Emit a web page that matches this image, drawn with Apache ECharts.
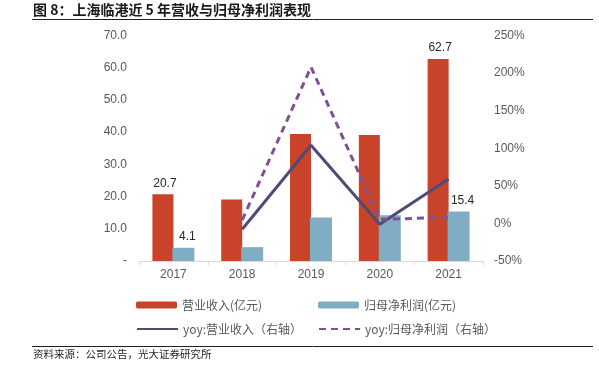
<!DOCTYPE html>
<html><head><meta charset="utf-8">
<script src="https://cdn.jsdelivr.net/npm/echarts@6/dist/echarts.min.js"></script>
<style>html,body{margin:0;padding:0;background:#fff}#c{width:599px;height:376px}</style>
</head><body><div id="c"></div>
<script>
const categories = ['2017','2018','2019','2020','2021'];
const revenue = [20.7, 19.1, 39.4, 39.1, 62.7];
const netProfit = [4.1, 4.3, 13.5, 14.2, 15.4];
const revenueYoy = [null, -7.8, 104, -1, 59];
const profitYoy = [null, 4.5, 208, 5.4, 8];
const leftTicks = [0, 70, 10];
const rightTicks = [-50, 250, 50];
const labeledIdx = [0, 4];

const FONT = '"Liberation Sans","Noto Sans CJK SC",Arial,sans-serif';
const CJK = '"Noto Sans CJK SC","Liberation Sans",sans-serif';
const names = ['营业收入(亿元)','归母净利润(亿元)','yoy:营业收入（右轴）','yoy:归母净利润（右轴）'];

function withLabels(arr){
  return arr.map((v,i)=> labeledIdx.includes(i) ? {value:v, label:{show:true}} : v);
}

const chart = echarts.init(document.getElementById('c'));
const legendBase = {itemWidth:41, itemHeight:7, textStyle:{fontSize:12, color:'#595959', fontFamily:CJK}, itemGap:0, padding:0};
chart.setOption({
  animation:false,
  textStyle:{fontFamily:FONT},
  grid:{left:139, right:116, top:35.5, bottom:115},
  legend:[
    Object.assign({}, legendBase, {data:[names[0]], left:136, top:299}),
    Object.assign({}, legendBase, {data:[names[1]], left:318, top:299}),
    Object.assign({}, legendBase, {data:[names[2]], left:136, top:323, itemStyle:{opacity:0}}),
    Object.assign({}, legendBase, {data:[names[3]], left:318, top:323, itemStyle:{opacity:0}})
  ],
  xAxis:{type:'category', data:categories,
    axisLine:{lineStyle:{color:'#D9D9D9'}},
    axisTick:{show:true, length:4, lineStyle:{color:'#D9D9D9'}},
    axisLabel:{color:'#595959', fontSize:12, margin:8}},
  yAxis:[
    {type:'value', min:leftTicks[0], max:leftTicks[1], interval:leftTicks[2],
     splitLine:{show:false}, axisLine:{show:false}, axisTick:{show:false},
     axisLabel:{color:'#595959', fontSize:12, margin:12, formatter:v=> v===0 ? '-' : v.toFixed(1)}},
    {type:'value', min:rightTicks[0], max:rightTicks[1], interval:rightTicks[2],
     splitLine:{show:false}, axisLine:{show:false}, axisTick:{show:false},
     axisLabel:{color:'#595959', fontSize:12, margin:11, formatter:v=> v+'%'}}
  ],
  series:[
    {name:names[0], type:'bar', data:withLabels(revenue), barWidth:21, barGap:'-5%',
     itemStyle:{color:'#C9432A'},
     label:{show:false, position:'top', color:'#262626', fontSize:12, offset:[2,0], formatter:p=>p.value.toFixed(1)}},
    {name:names[1], type:'bar', data:withLabels(netProfit), barWidth:22,
     itemStyle:{color:'#80ADC3'},
     label:{show:false, position:'top', color:'#262626', fontSize:12, offset:[4,0], formatter:p=>p.value.toFixed(1)}},
    {name:names[2], type:'line', yAxisIndex:1, data:revenueYoy, symbol:'none',
     lineStyle:{color:'#4F4A76', width:3}, itemStyle:{color:'#4F4A76'}},
    {name:names[3], type:'line', yAxisIndex:1, data:profitYoy, symbol:'none',
     lineStyle:{color:'#7F5190', width:3, type:[7,5]}, itemStyle:{color:'#7F5190'}}
  ],
  graphic:[
    {type:'text', left:33, top:3, style:{text:'图 8：上海临港近 5 年营收与归母净利润表现', font:'bold 14px '+CJK, fill:'#1a1a1a'}},
    {type:'line', shape:{x1:32, y1:19.5, x2:593, y2:19.5}, style:{stroke:'#222', lineWidth:1}},
    {type:'line', shape:{x1:32, y1:346.5, x2:593, y2:346.5}, style:{stroke:'#222', lineWidth:1}},
    {type:'text', left:33, top:349, style:{text:'资料来源：公司公告，光大证券研究所', font:'10.5px '+CJK, fill:'#262626'}}
  ]
});
</script></body></html>
